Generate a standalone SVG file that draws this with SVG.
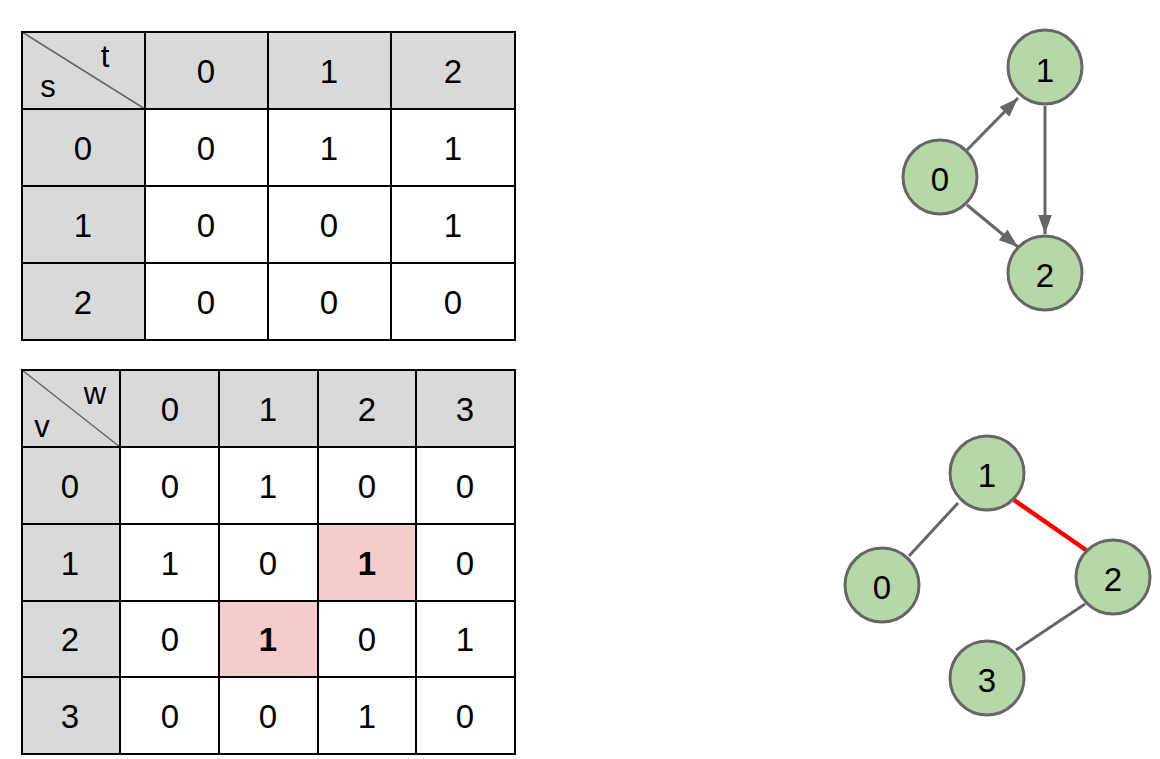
<svg xmlns="http://www.w3.org/2000/svg" width="1160" height="759" viewBox="0 0 1160 759">
<defs>
<style>
.hdr{fill:#d9d9d9}
.cell{fill:#ffffff}
.hl{fill:#f4cccc}
.grid{stroke:#000;stroke-width:2;fill:none}
.diag{stroke:#666;stroke-width:1.5}
.t{font-family:"Liberation Sans",Arial,sans-serif;font-size:33px;fill:#000;text-anchor:middle}
.b{font-weight:bold}
.small{font-family:"Liberation Sans",Arial,sans-serif;font-size:31px;fill:#000;text-anchor:middle}
.node{fill:#b6d7a8;stroke:#666;stroke-width:3}
.edge{stroke:#666;stroke-width:3;fill:none}
.red{stroke:#ff0000;stroke-width:4.5;fill:none}
</style>
<marker id="arr" viewBox="0 0 14 10" refX="14" refY="5" markerWidth="6.5" markerHeight="4.6" orient="auto" markerUnits="strokeWidth">
<path d="M0,0 L14,5 L0,10 Z" fill="#666"/>
</marker>
</defs>
<rect width="1160" height="759" fill="#fff"/>

<g id="table1">
<rect class="hdr" x="22" y="32" width="493" height="77"/>
<rect class="hdr" x="22" y="109" width="123" height="231"/>
<rect class="cell" x="145" y="109" width="370" height="231"/>
<line class="diag" x1="22" y1="32" x2="145" y2="109"/>
<text class="small" x="105" y="67">t</text>
<text class="small" x="48" y="97">s</text>
<text class="t" x="206" y="83">0</text>
<text class="t" x="329" y="83">1</text>
<text class="t" x="453" y="83">2</text>
<text class="t" x="83" y="160">0</text>
<text class="t" x="83" y="237">1</text>
<text class="t" x="83" y="314">2</text>
<text class="t" x="206" y="160">0</text><text class="t" x="329" y="160">1</text><text class="t" x="453" y="160">1</text>
<text class="t" x="206" y="237">0</text><text class="t" x="329" y="237">0</text><text class="t" x="453" y="237">1</text>
<text class="t" x="206" y="314">0</text><text class="t" x="329" y="314">0</text><text class="t" x="453" y="314">0</text>
<path class="grid" d="M22,32H515V340H22Z M145,32V340 M268,32V340 M391,32V340 M22,109H515 M22,186H515 M22,263H515"/>
</g>

<g id="table2">
<rect class="hdr" x="22" y="370" width="493" height="77"/>
<rect class="hdr" x="22" y="447" width="98" height="307"/>
<rect class="cell" x="120" y="447" width="395" height="307"/>
<rect class="hl" x="318" y="524" width="98" height="77"/>
<rect class="hl" x="219" y="601" width="99" height="76"/>
<line class="diag" x1="22" y1="370" x2="120" y2="447"/>
<text class="small" x="95" y="404">w</text>
<text class="small" x="42" y="437">v</text>
<text class="t" x="170" y="421">0</text>
<text class="t" x="268" y="421">1</text>
<text class="t" x="367" y="421">2</text>
<text class="t" x="465" y="421">3</text>
<text class="t" x="70" y="498">0</text>
<text class="t" x="70" y="575">1</text>
<text class="t" x="70" y="651">2</text>
<text class="t" x="70" y="728">3</text>
<text class="t" x="170" y="498">0</text><text class="t" x="268" y="498">1</text><text class="t" x="367" y="498">0</text><text class="t" x="465" y="498">0</text>
<text class="t" x="170" y="575">1</text><text class="t" x="268" y="575">0</text><text class="t b" x="367" y="575">1</text><text class="t" x="465" y="575">0</text>
<text class="t" x="170" y="651">0</text><text class="t b" x="268" y="651">1</text><text class="t" x="367" y="651">0</text><text class="t" x="465" y="651">1</text>
<text class="t" x="170" y="728">0</text><text class="t" x="268" y="728">0</text><text class="t" x="367" y="728">1</text><text class="t" x="465" y="728">0</text>
<path class="grid" d="M22,370H515V754H22Z M120,370V754 M219,370V754 M318,370V754 M416,370V754 M22,447H515 M22,524H515 M22,601H515 M22,677H515"/>
</g>

<g id="connectors">
<line class="edge" x1="967" y1="150" x2="1018" y2="98" marker-end="url(#arr)"/>
<line class="edge" x1="1045" y1="106" x2="1045" y2="234" marker-end="url(#arr)"/>
<line class="edge" x1="967" y1="205" x2="1018" y2="247" marker-end="url(#arr)"/>
<line class="edge" x1="958" y1="503" x2="909" y2="556"/>
<line class="red" x1="1014" y1="500" x2="1086" y2="550"/>
<line class="edge" x1="1085" y1="604" x2="1016" y2="650"/>
</g>

<g id="g1n0"><circle class="node" cx="940" cy="177" r="37"/><text class="t" x="940" y="191">0</text></g>
<g id="g1n1"><circle class="node" cx="1045" cy="67" r="37"/><text class="t" x="1045" y="82">1</text></g>
<g id="g1n2"><circle class="node" cx="1045" cy="273" r="37"/><text class="t" x="1045" y="287">2</text></g>

<g id="g2n1"><circle class="node" cx="987" cy="473" r="37"/><text class="t" x="987" y="487">1</text></g>
<g id="g2n0"><circle class="node" cx="882" cy="585" r="37"/><text class="t" x="882" y="599">0</text></g>
<g id="g2n2"><circle class="node" cx="1113" cy="577" r="37"/><text class="t" x="1113" y="591">2</text></g>
<g id="g2n3"><circle class="node" cx="987" cy="678" r="37"/><text class="t" x="987" y="692">3</text></g>
</svg>
